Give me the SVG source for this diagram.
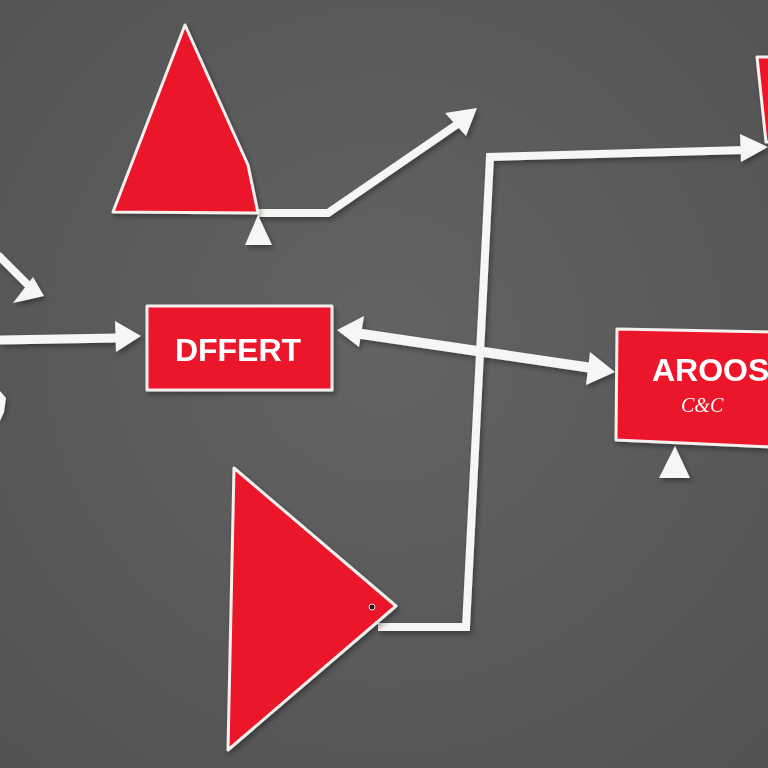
<svg xmlns="http://www.w3.org/2000/svg" width="768" height="768" viewBox="0 0 768 768">
  <defs>
    <radialGradient id="bg" cx="50%" cy="45%" r="75%">
      <stop offset="0" stop-color="#636363"/>
      <stop offset="1" stop-color="#525252"/>
    </radialGradient>
    <filter id="sh" x="-20%" y="-20%" width="140%" height="140%">
      <feDropShadow dx="2" dy="3" stdDeviation="2.5" flood-color="#000" flood-opacity="0.35"/>
    </filter>
    <style>
      .card { fill: #ec1229; stroke: #f4f0ee; stroke-width: 3; stroke-linejoin: round; }
      .line { fill: none; stroke: #f6f6f4; stroke-linejoin: miter; }
      .head { fill: #f6f6f4; }
      .lbl { font-family: "Liberation Sans", Arial, sans-serif; font-weight: bold; fill: #ffffff; }
      .script { font-family: "Liberation Serif", serif; font-style: italic; fill: #ffffff; }
    </style>
  </defs>
  <rect width="768" height="768" fill="url(#bg)"/>

  <g id="connectors" filter="url(#sh)">
    <line class="line" x1="-2" y1="255" x2="28" y2="285" stroke-width="8"/>
    <polygon class="head" points="13,303 44,296 33,277"/>
    <line class="line" x1="0" y1="340" x2="118" y2="338" stroke-width="9"/>
    <polygon class="head" points="115,321 141,336 116,352"/>
    <polygon class="head" points="0,391 6,398 4,412 0,421"/>
    <polyline class="line" points="258,213 328,213 462,121" stroke-width="8"/>
    <polygon class="head" points="445,113 477,108 466,136"/>
    <line class="line" x1="355" y1="333" x2="592" y2="368" stroke-width="10"/>
    <polygon class="head" points="337,330 364,316 359,347"/>
    <polygon class="head" points="615,372 586,385 590,352"/>
    <polyline class="line" points="378,627 466,627 490,157 745,150" stroke-width="8"/>
    <polygon class="head" points="740,134 768,147 741,162"/>
  </g>

  <g id="node-top-triangle" filter="url(#sh)">
    <polygon class="card" points="185,25 248,165 258,213 113,212"/>
    <polygon class="head" points="258,215 272,245 245,245"/>
  </g>

  <g id="node-top-right" filter="url(#sh)">
    <polygon class="card" points="757,57 772,57 772,142 766,142"/>
  </g>

  <g id="node-dffert" filter="url(#sh)">
    <rect class="card" x="147" y="306" width="185" height="84"/>
    <text class="lbl" x="238" y="361" font-size="32" text-anchor="middle">DFFERT</text>
  </g>

  <g id="node-aroos" filter="url(#sh)">
    <polygon class="card" points="617,329 772,332 772,447 616,440"/>
    <text class="lbl" x="652" y="381" font-size="32">AROOS</text>
    <text class="script" x="681" y="412" font-size="20">C&amp;C</text>
    <polygon class="head" points="675,446 690,478 659,478"/>
  </g>

  <g id="node-bottom-triangle" filter="url(#sh)">
    <polygon class="card" points="234,468 396,606 228,750"/>
    <circle cx="372" cy="607" r="3" fill="#2a1a1a" stroke="#f0e0d0" stroke-width="1"/>
  </g>
</svg>
